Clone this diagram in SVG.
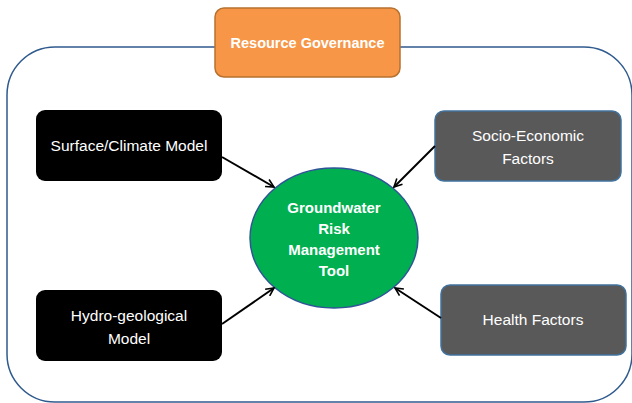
<svg xmlns="http://www.w3.org/2000/svg" width="632" height="403" viewBox="0 0 632 403">
<defs>
<style>
.t{font-family:"Liberation Sans",Arial,sans-serif;fill:#fff;text-anchor:middle;font-size:15.5px}
.b{font-weight:bold;font-size:15px}
.g{font-size:14.5px}
.blk{fill:#000}
.gry{fill:#595959;stroke:#41719C;stroke-width:1.5}
.con line{stroke:#000;stroke-width:2;marker-end:url(#ah)}
</style>
<marker id="ah" viewBox="0 0 10 10" refX="9" refY="5" markerWidth="5" markerHeight="5" orient="auto" markerUnits="strokeWidth">
<path d="M1,1 L9,5 L1,9" fill="none" stroke="#000" stroke-width="1.6"/>
</marker>
</defs>
<rect width="632" height="403" fill="#fff"/>
<g id="container">
<rect x="7" y="47" width="625" height="355" rx="48" ry="48" fill="none" stroke="#2F5A8E" stroke-width="1.5"/>
</g>
<g id="governance">
<rect x="215" y="8" width="185" height="69" rx="9" fill="#F79646" stroke="#B7712F" stroke-width="1.5"/>
<text class="t b g" x="307.5" y="48">Resource Governance</text>
</g>
<g id="surface">
<rect class="blk" x="36" y="110" width="186" height="71" rx="9"/>
<text class="t" x="129" y="151">Surface/Climate Model</text>
</g>
<g id="socio">
<rect class="gry" x="435" y="111" width="186" height="70" rx="9"/>
<text class="t" x="528" y="141">Socio-Economic</text>
<text class="t" x="528" y="164">Factors</text>
</g>
<g id="hydro">
<rect class="blk" x="36" y="290" width="186" height="71" rx="9"/>
<text class="t" x="129" y="321">Hydro-geological</text>
<text class="t" x="129" y="344">Model</text>
</g>
<g id="health">
<rect class="gry" x="441" y="285" width="185" height="70" rx="9"/>
<text class="t" x="533" y="325">Health Factors</text>
</g>
<g id="tool">
<ellipse cx="334" cy="238" rx="84" ry="70" fill="#00B050" stroke="#2F5597" stroke-width="1.5"/>
<text class="t b" x="334" y="213">Groundwater</text>
<text class="t b" x="334" y="234">Risk</text>
<text class="t b" x="334" y="255">Management</text>
<text class="t b" x="334" y="276">Tool</text>
</g>
<g id="connectors" class="con">
<line x1="222" y1="157" x2="274" y2="187"/>
<line x1="435" y1="146" x2="394" y2="187"/>
<line x1="222" y1="324" x2="274" y2="288"/>
<line x1="441" y1="318" x2="395" y2="288"/>
</g>
</svg>
